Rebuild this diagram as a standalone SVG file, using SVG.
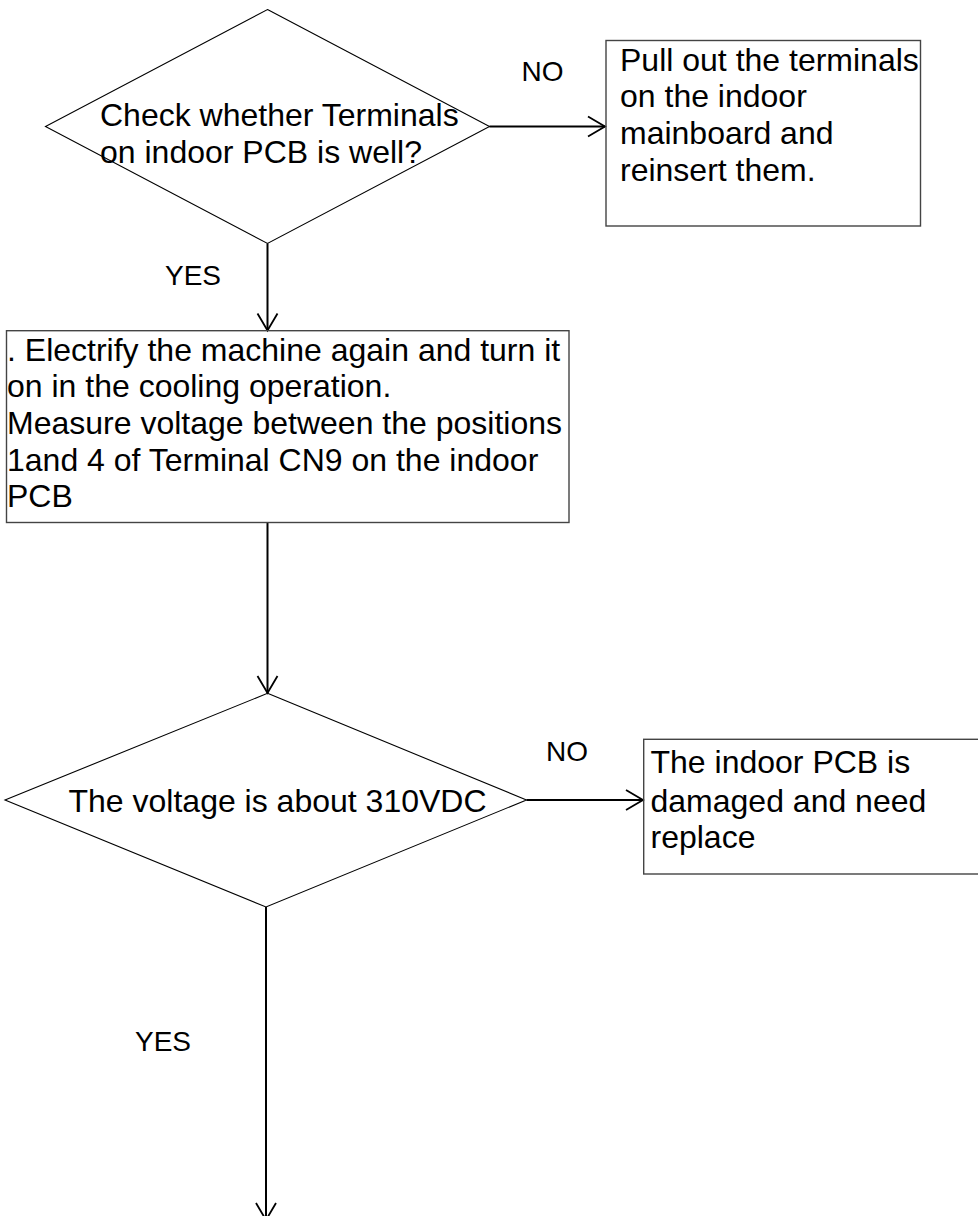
<svg xmlns="http://www.w3.org/2000/svg" width="978" height="1216" viewBox="0 0 978 1216">
<style>
.bg{fill:#ffffff}
.dia{fill:none;stroke:#000;stroke-width:1.1}
.box{fill:none;stroke:#444;stroke-width:1.4}
.conn{fill:none;stroke:#000;stroke-width:2}
.t{font-family:"Liberation Sans",Arial,sans-serif;font-size:32px;fill:#000}
.lbl{font-family:"Liberation Sans",Arial,sans-serif;font-size:28px;fill:#000}
</style>
<defs>
<marker id="arr" markerUnits="userSpaceOnUse" viewBox="-19 -12 21 24" refX="0" refY="0" markerWidth="21" markerHeight="24" orient="auto" overflow="visible">
<path d="M-17,-10 L0,0 L-17,10" fill="none" stroke="#000" stroke-width="1.8"/>
</marker>
</defs>
<rect class="bg" x="0" y="0" width="978" height="1216"/>
<g id="connectors">
<line class="conn" x1="489.5" y1="126.5" x2="605" y2="126.5" marker-end="url(#arr)"/>
<line class="conn" x1="267.5" y1="243.5" x2="267.5" y2="330.5" marker-end="url(#arr)"/>
<line class="conn" x1="267.5" y1="522.5" x2="267.5" y2="693" marker-end="url(#arr)"/>
<line class="conn" x1="526.5" y1="800" x2="643" y2="800" marker-end="url(#arr)"/>
<line class="conn" x1="266" y1="907" x2="266" y2="1220" marker-end="url(#arr)"/>
<text class="lbl" x="521.5" y="81">NO</text>
<text class="lbl" x="165" y="285">YES</text>
<text class="lbl" x="546" y="760.5">NO</text>
<text class="lbl" x="135" y="1050.5">YES</text>
</g>
<g id="decision1">
<polygon class="dia" points="267.5,9.5 489.5,126.5 267.5,243.5 45.5,126.5"/>
<text class="t" x="100" y="126">Check whether Terminals</text>
<text class="t" x="100" y="162.5">on indoor PCB is well?</text>
</g>
<g id="action1">
<rect class="box" x="606" y="40.5" width="314.5" height="185.5"/>
<text class="t" x="620" y="70.7">Pull out the terminals</text>
<text class="t" x="620" y="107.3">on the indoor</text>
<text class="t" x="620" y="144">mainboard and</text>
<text class="t" x="620" y="180.7">reinsert them.</text>
</g>
<g id="step1">
<rect class="box" x="6.5" y="330.7" width="562.5" height="191.8"/>
<text class="t" x="7" y="360.7">. Electrify the machine again and turn it</text>
<text class="t" x="7" y="397.3">on in the cooling operation.</text>
<text class="t" x="7" y="434">Measure voltage between the positions</text>
<text class="t" x="7" y="470.5">1and 4 of Terminal CN9 on the indoor</text>
<text class="t" x="7" y="507">PCB</text>
</g>
<g id="decision2">
<polygon class="dia" points="267.5,693.3 526.5,800 266,907 5,800"/>
<text class="t" x="68.5" y="811.7">The voltage is about 310VDC</text>
</g>
<g id="action2">
<rect class="box" x="643.7" y="739.3" width="340" height="134.7"/>
<text class="t" x="650.5" y="773.3">The indoor PCB is</text>
<text class="t" x="650.5" y="811.7">damaged and need</text>
<text class="t" x="650.5" y="848.3">replace</text>
</g>
</svg>
